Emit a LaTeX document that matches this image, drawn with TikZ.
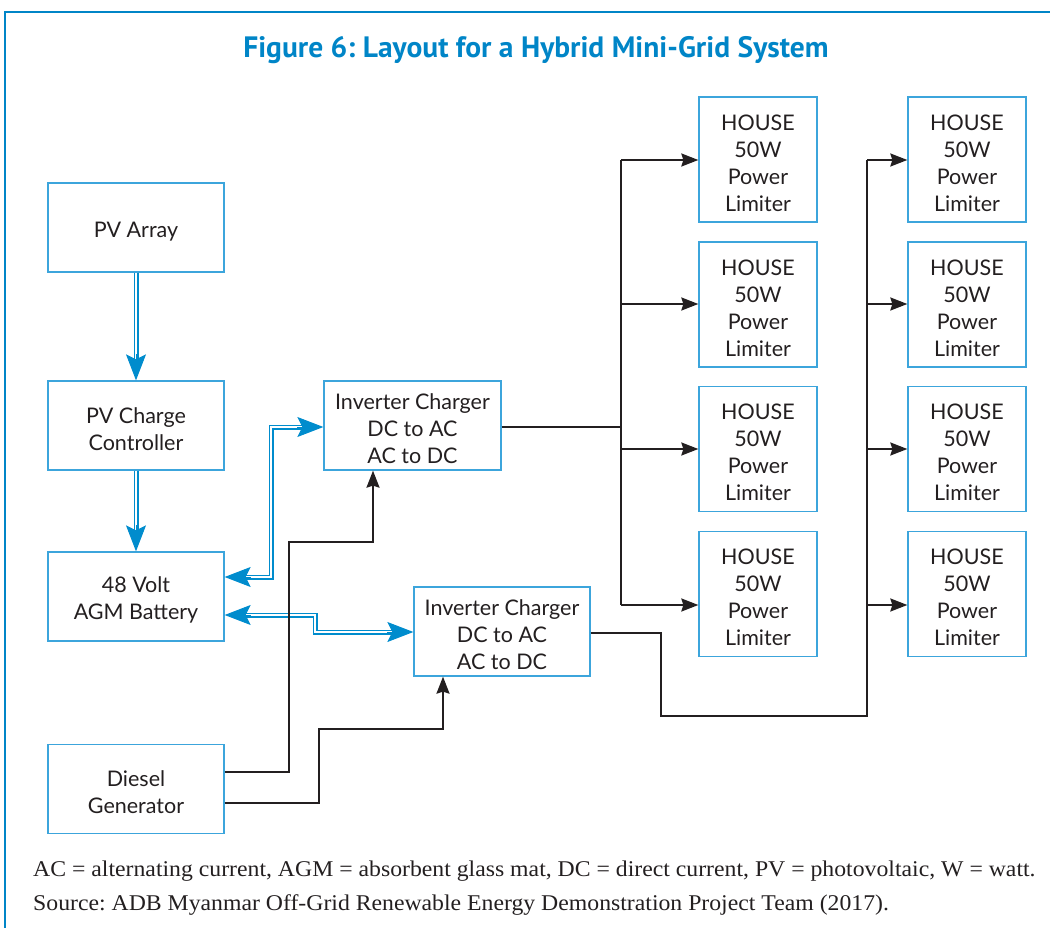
\documentclass[tikz,border=0pt]{standalone}
\usepackage{fontspec}
\setmainfont{Lato}
\newfontfamily\titlefont{PT Sans}
\newfontfamily\footfont[FakeStretch=1.055]{Liberation Serif}
\usetikzlibrary{arrows.meta,calc}
\definecolor{tblue}{RGB}{0,133,199}
\definecolor{bblue}{RGB}{60,165,220}
\definecolor{ablue}{RGB}{0,140,205}
\definecolor{dk}{RGB}{35,31,32}
\newcommand\tstr{\rule{0pt}{23pt}}
\frenchspacing
\begin{document}
\begin{tikzpicture}[x=1pt,y=-1pt,
  box/.style={draw=bblue,line width=1.3pt,minimum width=176pt,minimum height=89pt,
    align=center,font=\fontsize{21.5}{27}\selectfont,text=dk,inner sep=0pt},
  house/.style={box,minimum width=118pt,minimum height=125pt},
  blk/.style={draw=dk,line width=2pt},
  blkarr/.style={blk,-{Stealth[length=17pt,width=13pt,inset=2pt]}},
  dbl/.style={draw=ablue,double=white,double distance=2pt,line width=1.5pt},
  btip/.style={draw=ablue,line width=1pt,-{Stealth[length=26pt,width=20pt,inset=5pt]}},
  foot/.style={anchor=west,font=\footfont\fontsize{22.5}{26}\selectfont,text=dk,inner sep=0pt}
]
\useasboundingbox (0,0) rectangle (1050,928);
% frame
\draw[tblue,line width=1.6pt] (5,1000) -- (5,12) -- (1100,12);
% title
\node[font=\titlefont\bfseries\fontsize{29.5}{32}\selectfont,text=tblue] (title) at (536,50) {Figure 6: Layout for a Hybrid Mini-Grid System};
% left boxes
\node[box] (pva) at (136,227.5) {\tstr PV Array};
\node[box] (pvc) at (136,425.5) {\tstr PV Charge\\Controller};
\node[box] (bat) at (136,596.5) {\tstr 48 Volt\\AGM Battery};
\node[box] (dsl) at (136,789) {\tstr Diesel\\Generator};
\node[box,minimum width=177pt] (inva) at (412.5,425.5) {\tstr Inverter Charger\\DC to AC\\AC to DC};
\node[box] (invb) at (502,631.5) {\tstr Inverter Charger\\DC to AC\\AC to DC};
% houses
\foreach \c/\x in {a/758,b/967}{
  \node[house] (h\c1) at (\x,159.5) {\tstr HOUSE\\50W\\Power\\Limiter};
  \node[house] (h\c2) at (\x,304.5) {\tstr HOUSE\\50W\\Power\\Limiter};
  \node[house] (h\c3) at (\x,449) {\tstr HOUSE\\50W\\Power\\Limiter};
  \node[house] (h\c4) at (\x,594) {\tstr HOUSE\\50W\\Power\\Limiter};
}
% blue double arrows
\draw[dbl,shorten >=20pt] (pva.south) -- (pvc.north);
\draw[btip] ($(pvc.north)+(0,-26)$) -- (pvc.north);
\draw[dbl,shorten >=20pt] (pvc.south) -- (bat.north);
\draw[btip] ($(bat.north)+(0,-26)$) -- (bat.north);
\coordinate (b1) at (bat.east |- 0,577);
\coordinate (b2) at (bat.east |- 0,615);
\coordinate (i1) at (inva.west |- 0,427);
\coordinate (i2) at (invb.west |- 0,632);
\draw[dbl,shorten >=20pt,shorten <=20pt] (b1) -| (271,427) -- (i1);
\draw[btip] ($(b1)+(26,0)$) -- (b1);
\draw[btip] ($(i1)+(-26,0)$) -- (i1);
\draw[dbl,shorten >=20pt,shorten <=20pt] (b2) -| (315,632) -- (i2);
\draw[btip] ($(b2)+(26,0)$) -- (b2);
\draw[btip] ($(i2)+(-26,0)$) -- (i2);
% diesel lines
\draw[blkarr] (dsl.east |- 0,772) -| (289,542) -| (inva.south -| 373,0);
\draw[blkarr] (dsl.east |- 0,803) -| (319,729) -| (invb.south -| 443,0);
% bus 1
\draw[blk] (inva.east |- 0,427) -- (621,427);
\draw[blk] (621,160) -- (621,605);
\draw[blkarr] (621,160) -- (ha1.west |- 0,160);
\draw[blkarr] (621,304) -- (ha2.west |- 0,304);
\draw[blkarr] (621,449) -- (ha3.west |- 0,449);
\draw[blkarr] (621,605) -- (ha4.west |- 0,605);
% bus 2
\draw[blk] (invb.east |- 0,633) -- (661,633) -- (661,716) -- (867,716) -- (867,160);
\draw[blkarr] (867,160) -- (hb1.west |- 0,160);
\draw[blkarr] (867,304) -- (hb2.west |- 0,304);
\draw[blkarr] (867,449) -- (hb3.west |- 0,449);
\draw[blkarr] (867,605) -- (hb4.west |- 0,605);
% footer
\node[foot] (f1) at (33,871) {AC = alternating current, AGM = absorbent glass mat, DC = direct current, PV = photovoltaic, W = watt.};
\node[foot] (f2) at (33,905) {Source: ADB Myanmar Off-Grid Renewable Energy Demonstration Project Team (2017).};
\end{tikzpicture}
\end{document}
